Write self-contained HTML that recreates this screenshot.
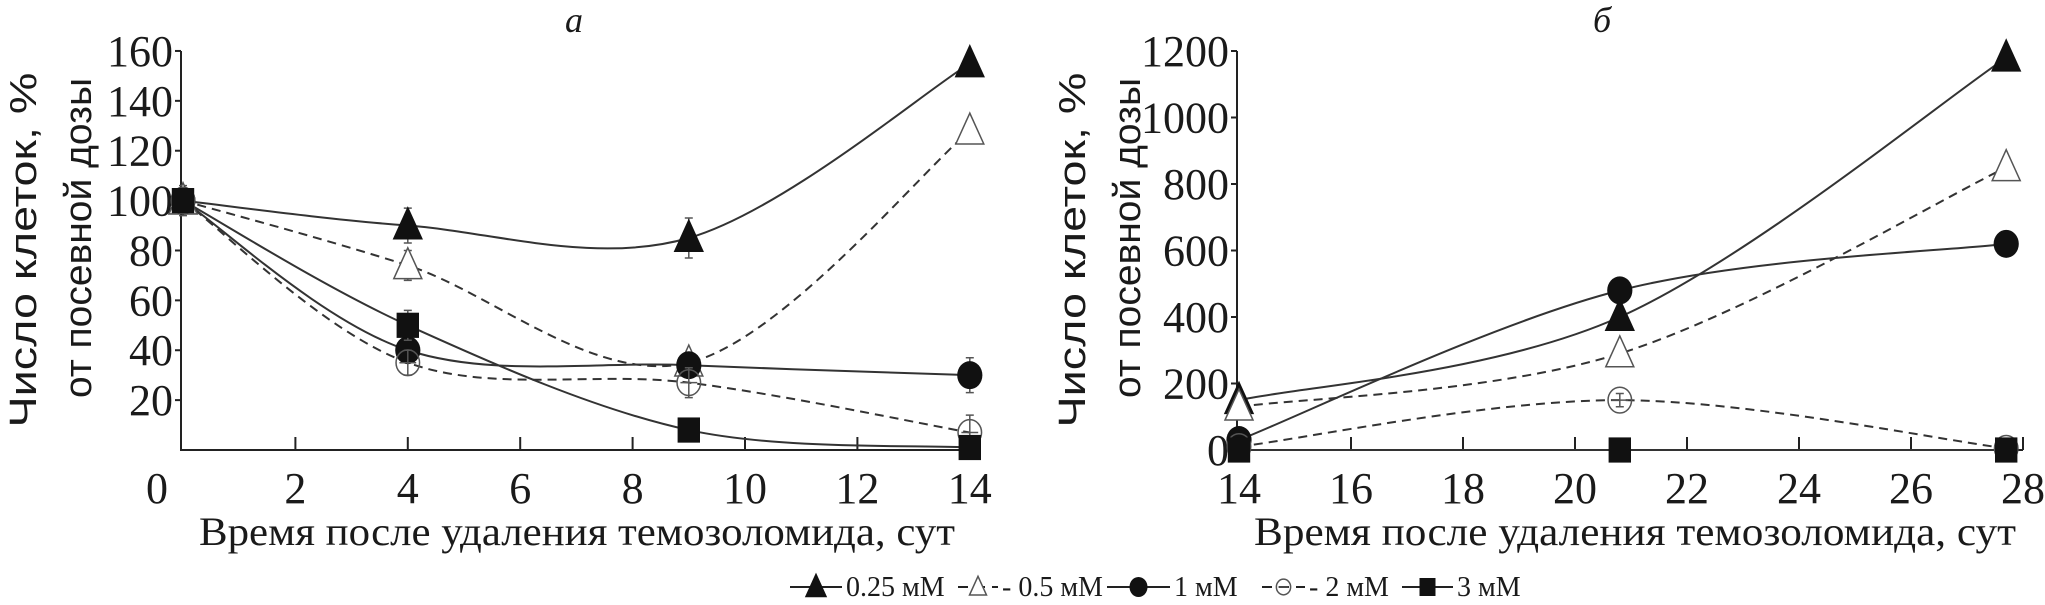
<!DOCTYPE html>
<html><head><meta charset="utf-8"><style>
html,body{margin:0;padding:0;background:#fff;}
svg{display:block;}
text{font-family:"Liberation Serif",serif;fill:#1a1a1a;}
</style></head><body>
<svg id="chart" width="2045" height="605" viewBox="0 0 2045 605" xmlns="http://www.w3.org/2000/svg">
<g id="gA"></g>
<g id="gB"></g>
<g id="legend"></g>
</svg>
<script>
const seriesNames = ["0.25 мМ","- 0.5 мМ","1 мМ","- 2 мМ","3 мМ"];
const markers = ["tri","otri","dot","ocirc","sq"];
const dashed = [false,true,false,true,false];
// panel a
const daysA = [0,4,9,14];
const valsA025 = [100,90,85,155];
const valsA05 = [100,74,35,128];
const valsA1 = [100,40,34,30];
const valsA2 = [100,35,27,7];
const valsA3 = [100,50,8,1];
const errA025 = [6,7,8,0];
const errA05 = [5,6,4,4];
const errA1 = [5,4,5,7];
const errA2 = [5,5,6,7];
const errA3 = [4,6,4,0];
const xTicksA = [0,2,4,6,8,10,12,14];
const yTicksA = [20,40,60,80,100,120,140,160];
// panel b
const daysB = [14,20.8,27.7];
const valsB025 = [150,400,1180];
const valsB05 = [130,290,850];
const valsB1 = [30,480,620];
const valsB2 = [10,150,5];
const valsB3 = [0,0,0];
const errB05 = [0,25,30];
const errB2 = [0,20,0];
const xTicksB = [14,16,18,20,22,24,26,28];
const yTicksB = [0,200,400,600,800,1000,1200];

const NS="http://www.w3.org/2000/svg";
function mk(tag,attrs,parent){const e=document.createElementNS(NS,tag);for(const k in attrs)e.setAttribute(k,attrs[k]);parent.appendChild(e);return e;}

function spline(pts){
  let d=`M${pts[0][0]},${pts[0][1]}`;
  for(let i=0;i<pts.length-1;i++){
    const p0=pts[i-1]||pts[i],p1=pts[i],p2=pts[i+1],p3=pts[i+2]||p2;
    const c1=[p1[0]+(p2[0]-p0[0])/6,p1[1]+(p2[1]-p0[1])/6];
    const c2=[p2[0]-(p3[0]-p1[0])/6,p2[1]-(p3[1]-p1[1])/6];
    d+=` C${c1[0]},${c1[1]} ${c2[0]},${c2[1]} ${p2[0]},${p2[1]}`;
  }
  return d;
}
function marker(g,type,x,y,s){
  let e;
  if(type==="tri"||type==="otri"){
    const h=s*1.05;
    e=mk('polygon',{points:`${x},${y-h*0.6} ${x-s/2},${y+h*0.45} ${x+s/2},${y+h*0.45}`,fill:type==="tri"?"#111":"#fff",stroke:type==="tri"?"#111":"#555","stroke-width":1.5},g);
  } else if(type==="dot"){
    e=mk('ellipse',{cx:x,cy:y,rx:s*0.45,ry:s*0.5,fill:"#111"},g);
  } else if(type==="ocirc"){
    e=mk('ellipse',{cx:x,cy:y,rx:s*0.42,ry:s*0.46,fill:"none",stroke:"#555","stroke-width":1.5},g);
    mk('line',{x1:x-s*0.3,x2:x+s*0.3,y1:y,y2:y,stroke:"#555","stroke-width":1.5},g);
  } else {
    e=mk('rect',{x:x-s*0.4,y:y-s*0.45,width:s*0.8,height:s*0.9,fill:"#111"},g);
  }
  return e;
}

function panel(g,cfg){
  const X=v=>cfg.x0+(v-cfg.xmin)*cfg.xs;
  const Y=v=>cfg.y0-(v-cfg.ymin)*cfg.ys;
  const ax=mk('path',{d:`M${cfg.axX},${Y(cfg.ymax)} L${cfg.axX},${cfg.y0} L${X(cfg.xTicks[cfg.xTicks.length-1])},${cfg.y0}`,fill:"none",stroke:"#222","stroke-width":2},g);
  
  
  cfg.xTicks.forEach((t,i)=>{
    if(i>0){const tk=mk('line',{x1:X(t),x2:X(t),y1:cfg.y0,y2:cfg.y0-13,stroke:"#222","stroke-width":2},g);
      
      }
    const lx=(cfg.zeroShift&&t===0)?X(t)-26:X(t);
    const tx=mk('text',{x:lx,y:cfg.y0+53,"font-size":44,"text-anchor":"middle"},g);tx.textContent=t;
    
    
  });
  cfg.yTicks.forEach(t=>{
    const tk=mk('line',{x1:cfg.axX-6,x2:cfg.axX,y1:Y(t),y2:Y(t),stroke:"#222","stroke-width":2},g);
    
    
    const tx=mk('text',{x:cfg.axX-8,y:Y(t)+15,"font-size":44,"text-anchor":"end"},g);tx.textContent=t;
    
    
  });
  cfg.series.forEach((vals,si)=>{
    const pts=vals.map((v,i)=>[X(cfg.days[i]),Y(v)]);
    const p=mk('path',{d:spline(pts),fill:"none",stroke:"#333","stroke-width":2,"stroke-dasharray":dashed[si]?"9,6":"none"},g);
    
    
  });
  cfg.series.forEach((vals,si)=>{
    const errs=cfg.errs[si];
    vals.forEach((v,i)=>{
      if(errs&&errs[i]){
        const eb=mk('path',{d:`M${X(cfg.days[i])},${Y(v+errs[i])} V${Y(v-errs[i])} M${X(cfg.days[i])-4},${Y(v+errs[i])} h8 M${X(cfg.days[i])-4},${Y(v-errs[i])} h8`,stroke:"#555","stroke-width":1.5,fill:"none"},g);
        
        
      }
      const m=marker(g,markers[si],X(cfg.days[i]),Y(v),28);
      
      
    });
  });
  const t=mk('text',{x:cfg.titleX,y:32,"font-size":36,"font-style":"italic","text-anchor":"middle"},g);t.textContent=cfg.title;
  
  
  const xt=mk('text',{x:cfg.xtX,y:545,"font-size":40,"text-anchor":"middle",textLength:cfg.xtW,lengthAdjust:"spacingAndGlyphs"},g);
  xt.textContent="Время после удаления темозоломида, сут";
  
  
  const y1=mk('text',{transform:`translate(${cfg.ylX},${cfg.ylY}) rotate(-90)`,"font-size":38,"text-anchor":"middle",textLength:355,lengthAdjust:"spacingAndGlyphs",style:"font-family:'Liberation Sans',sans-serif"},g);
  y1.textContent="Число клеток, %";
  
  
  const y2=mk('text',{transform:`translate(${cfg.ylX+55},${cfg.ylY-12}) rotate(-90)`,"font-size":38,"text-anchor":"middle",textLength:320,lengthAdjust:"spacingAndGlyphs",style:"font-family:'Liberation Sans',sans-serif"},g);
  y2.textContent="от посевной дозы";
  
  
}

panel(document.getElementById('gA'),{x0:183,xmin:0,xs:56.2,y0:450,ymin:0,ys:2.494,ymax:160,axX:181,
  days:daysA,series:[valsA025,valsA05,valsA1,valsA2,valsA3],errs:[errA025,errA05,errA1,errA2,errA3],
  xTicks:xTicksA,yTicks:yTicksA,zeroShift:true,title:"а",titleX:574,xtX:577,xtW:756,ylX:36,ylY:250});
panel(document.getElementById('gB'),{x0:1239,xmin:14,xs:56,y0:450,ymin:0,ys:0.3325,ymax:1200,axX:1237,
  days:daysB,series:[valsB025,valsB05,valsB1,valsB2,valsB3],errs:[null,errB05,null,errB2,null],
  xTicks:xTicksB,yTicks:yTicksB,zeroShift:false,title:"б",titleX:1602,xtX:1635,xtW:762,ylX:1085,ylY:250});

// legend layout (pixel positions of each entry)
const legLineStart = [790,958,1107,1262,1402];
const legLineEnd = [842,998,1170,1305,1453];
const lg=document.getElementById('legend');
seriesNames.forEach((n,i)=>{
  const item=mk('g',{},lg);
  
  
  const x1=legLineStart[i], x2=legLineEnd[i];
  mk('line',{x1:x1,x2:x2,y1:587,y2:587,stroke:"#222","stroke-width":2,"stroke-dasharray":dashed[i]?"10,7":"none"},item);
  marker(item,markers[i],(x1+x2)/2,587,i===1||i===3?17:20);
  const t=mk('text',{x:x2+4,y:596,"font-size":28},item);t.textContent=n;
});
</script>
</body></html>
